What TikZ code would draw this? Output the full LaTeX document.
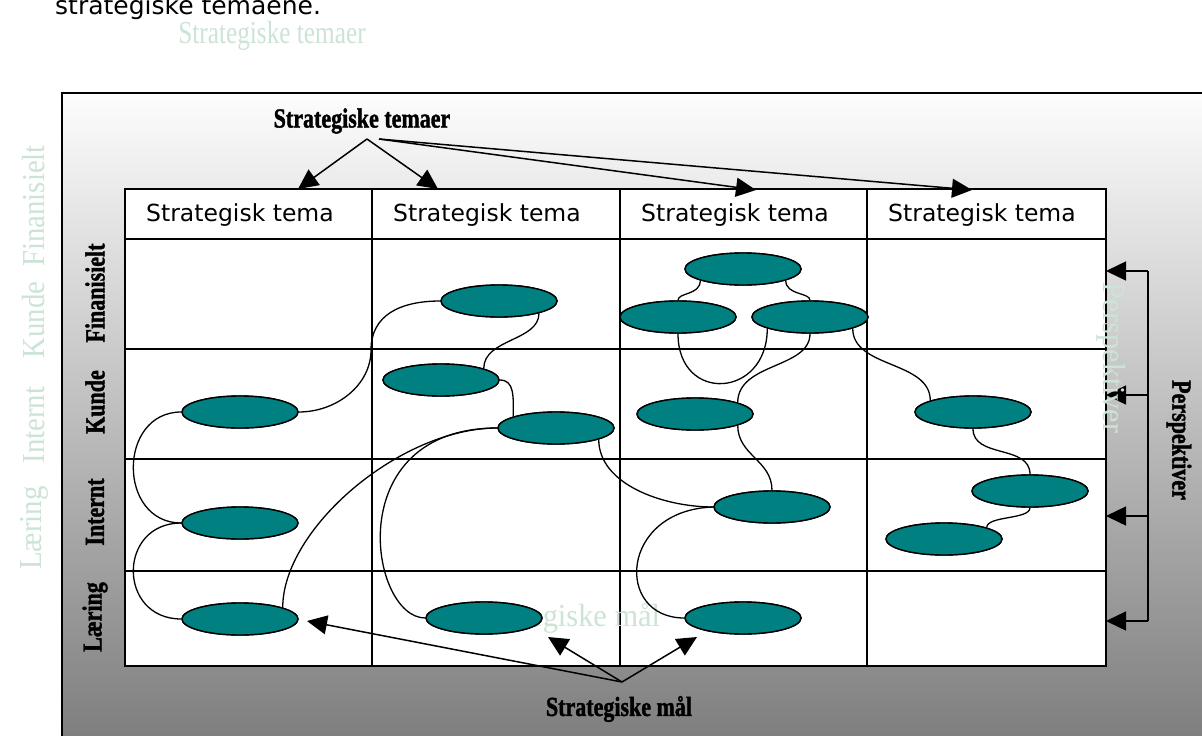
\documentclass[tikz,border=0pt]{standalone}
\usepackage{graphicx}
\usepackage{fontspec}
\setmainfont{Liberation Serif}
\newfontfamily\hdrfont{DejaVu Sans}
\newfontfamily\heavyfont{Liberation Serif}[BoldFeatures={FakeBold=1.6}]
\usetikzlibrary{arrows.meta,shapes.geometric}

\definecolor{goalteal}{RGB}{0,128,128}
\definecolor{fade}{RGB}{204,228,213}
\definecolor{frametop}{RGB}{253,253,253}
\definecolor{framebot}{RGB}{124,124,124}

% horizontally condensed text
\newcommand{\squeeze}[2][0.9]{\scalebox{#1}[1]{#2}}

\tikzset{
  goal/.style={ellipse, draw=black, line width=1.4pt, fill=goalteal,
    minimum width=116pt, minimum height=32pt, inner sep=0pt},
  link/.style={line width=1.3pt},
  pointer/.style={line width=1.5pt, -{Triangle[length=20pt,width=19pt]}},
  gridline/.style={line width=1.6pt},
  headtxt/.style={font=\hdrfont\fontsize{23.5}{26}\selectfont, inner sep=0pt, anchor=west},
  boldlbl/.style={font=\heavyfont\fontsize{27.5}{30}\selectfont\bfseries, inner sep=0pt},
  fadelbl/.style={font=\fontsize{32}{36}\selectfont, text=fade, inner sep=0pt},
}

\begin{document}
\begin{tikzpicture}[x=1pt,y=-1pt]
\useasboundingbox (0,0) rectangle (1202,736);
\clip (0,0) rectangle (1202,736);
\fill[white] (0,0) rectangle (1202,736);

% last line of the running text, cut by the page edge
\node[anchor=base west, inner sep=0pt, font=\hdrfont\fontsize{25}{28}\selectfont] (intro) at (55,14) {strategiske temaene.};

% faded captions outside the frame
\node[fadelbl] (fadeTema) at (272,36) {\squeeze[0.79]{Strategiske temaer}};
\node[fadelbl, rotate=90] (fadeL) at (34,528) {\squeeze{Læring}};
\node[fadelbl, rotate=90] (fadeI) at (34,425) {\squeeze{Internt}};
\node[fadelbl, rotate=90] (fadeK) at (34,320) {\squeeze{Kunde}};
\node[fadelbl, rotate=90] (fadeF) at (34,206) {\squeeze{Finanisielt}};

% shaded frame
\shade[top color=frametop, bottom color=framebot] (62,93) rectangle (1215,750);
\draw[line width=2.6pt] (62,93) rectangle (1215,750);

% table
\fill[white] (125,189) rectangle (1106,666);
\draw[gridline] (125,189) rectangle (1106,666);
\foreach \gx in {372,620,867} \draw[gridline] (\gx,189) -- (\gx,666);
\foreach \gy in {239,349,459,571} \draw[gridline] (125,\gy) -- (1106,\gy);

\node[headtxt] (th1) at (146,215) {Strategisk tema};
\node[headtxt] (th2) at (393,215) {Strategisk tema};
\node[headtxt] (th3) at (641,215) {Strategisk tema};
\node[headtxt] (th4) at (888,215) {Strategisk tema};

\node[fadelbl] (fadeMaal) at (566,618) {\squeeze[0.95]{Strategiske mål}};

% strategic goals
\node[goal] (K1) at (240,412) {};
\node[goal] (I1) at (240,523) {};
\node[goal] (L1) at (240,619) {};
\node[goal] (F2) at (499,301) {};
\node[goal] (K2a) at (441,380) {};
\node[goal] (K2b) at (556,428) {};
\node[goal] (L2) at (484,618) {};
\node[goal] (F3top) at (743,269) {};
\node[goal] (F3L) at (678,317) {};
\node[goal] (F3R) at (810,317) {};
\node[goal] (K3) at (695,414) {};
\node[goal] (I3) at (772,507) {};
\node[goal] (L3) at (743,618) {};
\node[goal] (K4) at (973,412) {};
\node[goal] (I4a) at (1030,491) {};
\node[goal] (I4b) at (944,539) {};

% cause-effect links
\coordinate (k1f2) at (371,350);
\draw[link] (K1.east) .. controls +(38,0) and +(0,35) .. (k1f2) .. controls +(0,-35) and +(-40,0) .. (F2.west);
\draw[link] (F2.-17) .. controls +(0,28) and +(0,-30) .. (K2a.15);
\draw[link] (K2a.east) .. controls +(15,0) and +(0,-20) .. (K2b.165);
\draw[link] (K2b.west) .. controls +(-97,0) and +(0,-79) .. (L1.15);
\draw[link] (K2b.west) .. controls +(-158,0) and +(-56,0) .. (L2.west);
\draw[link] (K2b.-15) .. controls +(0,45) and +(-50,0) .. (I3.west);
\draw[link] (I3.west) .. controls +(-94,3) and +(-70,0) .. (L3.west);
\draw[link] (F3R.south) .. controls +(0,35) and +(0,-40) .. (K3.15);
\draw[link] (F3L.south) .. controls +(0,70) and +(0,70) .. (F3R.195);
\draw[link] (F3top.195) .. controls +(0,15) and +(0,-8) .. (F3L.north);
\draw[link] (F3top.-15) .. controls +(0,15) and +(0,-8) .. (F3R.north);
\draw[link] (K3.-15) .. controls +(0,30) and +(0,-30) .. (I3.north);
\draw[link] (F3R.-15) .. controls +(0,40) and +(0,-40) .. (K4.165);
\draw[link] (K4.south) .. controls +(0,30) and +(0,-30) .. (I4a.north);
\draw[link] (I4a.south) .. controls +(0,12) and +(0,-12) .. (I4b.15);
\draw[link] (K1.west) .. controls +(-64,0) and +(-64,0) .. (I1.west);
\draw[link] (I1.west) .. controls +(-64,0) and +(-64,0) .. (L1.west);

% redraw goals above the links
\foreach \g in {K1,I1,L1,F2,K2a,K2b,L2,F3top,F3L,F3R,K3,I3,L3,K4,I4a,I4b}
  \path (\g.center) node[goal] {};

% perspective labels
\node[boldlbl, rotate=90] (rF) at (95,293) {\squeeze[0.8]{Finanisielt}};
\node[boldlbl, rotate=90] (rK) at (95,402) {\squeeze[0.8]{Kunde}};
\node[boldlbl, rotate=90] (rI) at (95,512) {\squeeze[0.8]{Internt}};
\node[boldlbl, rotate=90] (rL) at (95,617) {\squeeze[0.8]{Læring}};

% strategic themes pointer
\node[boldlbl] (tema) at (362,121) {\squeeze[0.8]{Strategiske temaer}};
\coordinate (ta) at (367,139);
\coordinate (tb) at (379,139);
\coordinate (t1) at (298,189);
\coordinate (t2) at (438,189);
\coordinate (t3) at (756,190);
\coordinate (t4) at (972,190);
\draw[pointer] (ta) -- (t1);
\draw[pointer] (ta) -- (t2);
\draw[pointer] (tb) -- (t3);
\draw[pointer] (tb) -- (t4);

% strategic goals pointer
\node[boldlbl] (maal) at (619,709) {\squeeze[0.8]{Strategiske mål}};
\coordinate (ba) at (622,682);
\coordinate (b1) at (307,621);
\coordinate (b2) at (548,637);
\coordinate (b3) at (697,637);
\draw[pointer] (ba) -- (b1);
\draw[pointer] (ba) -- (b2);
\draw[pointer] (ba) -- (b3);

% perspectives bracket
\coordinate (pv1) at (1148,271);
\coordinate (pv2) at (1148,395);
\coordinate (pv3) at (1148,516);
\coordinate (pv4) at (1148,621);
\coordinate (pt1) at (1106,271);
\coordinate (pt2) at (1106,395);
\coordinate (pt3) at (1106,516);
\coordinate (pt4) at (1106,621);
\draw[line width=1.5pt] (pv1) -- (pv4);
\draw[pointer] (pv1) -- (pt1);
\draw[pointer] (pv2) -- (pt2);
\draw[pointer] (pv3) -- (pt3);
\draw[pointer] (pv4) -- (pt4);
\node[boldlbl, rotate=-90] (persp) at (1179,440) {\squeeze[0.8]{Perspektiver}};

\node[fadelbl, rotate=-90] (fadeP) at (1111,358) {\squeeze[0.94]{Perspektiver}};
\end{tikzpicture}
\end{document}
